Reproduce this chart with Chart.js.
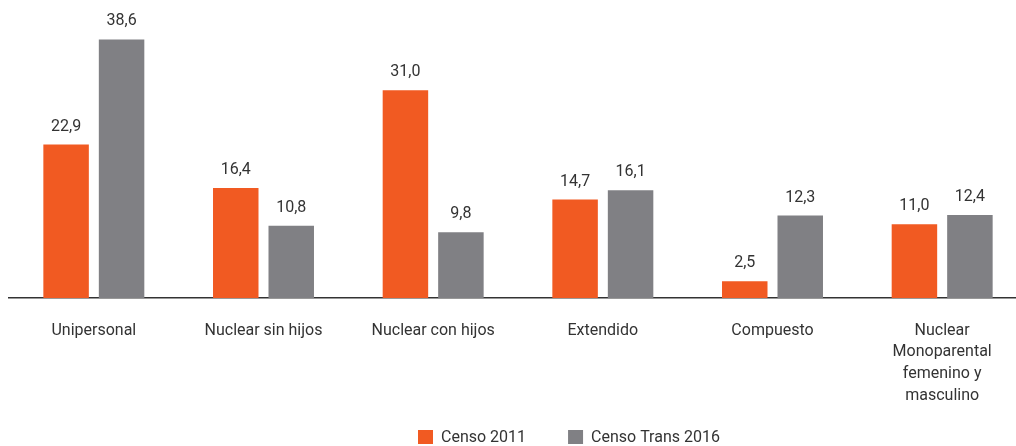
<!DOCTYPE html>
<html>
<head>
<meta charset="utf-8">
<script src="https://cdn.jsdelivr.net/npm/chart.js@4.4.1/dist/chart.umd.min.js"></script>
<style>
  html, body { margin: 0; padding: 0; background: #fff; overflow: hidden; width: 1016px; height: 446px; }
  #wrap { width: 1030px; height: 446px; }
</style>
</head>
<body>
<div id="wrap"><canvas id="c" width="1030" height="446"></canvas></div>
<script>
const categories = ['Unipersonal', 'Nuclear sin hijos', 'Nuclear con hijos', 'Extendido', 'Compuesto',
  ['Nuclear', 'Monoparental', 'femenino y', 'masculino']];
const censo2011 = [22.9, 16.4, 31.0, 14.7, 2.5, 11.0];
const censoTrans2016 = [38.6, 10.8, 9.8, 16.1, 12.3, 12.4];
const seriesNames = ['Censo 2011', 'Censo Trans 2016'];

const FONT = 'Roboto, "Liberation Sans Narrow", sans-serif';
const ORANGE = '#F15A22';
const GRAY = '#808084';
const TEXT = '#333333';

const valueLabels = {
  id: 'valueLabels',
  afterDatasetsDraw(chart) {
    const ctx = chart.ctx;
    ctx.save();
    ctx.font = '16px ' + FONT;
    ctx.fillStyle = TEXT;
    ctx.textAlign = 'center';
    ctx.textBaseline = 'alphabetic';
    chart.data.datasets.forEach((ds, i) => {
      const meta = chart.getDatasetMeta(i);
      meta.data.forEach((el, j) => {
        const v = ds.data[j];
        ctx.fillText(v.toFixed(1).replace('.', ','), el.x, el.y - 14);
      });
    });
    ctx.restore();
  }
};

const customLegend = {
  id: 'customLegend',
  afterDraw(chart) {
    const ctx = chart.ctx;
    ctx.save();
    ctx.font = '16px ' + FONT;
    ctx.textBaseline = 'middle';
    ctx.textAlign = 'left';
    let x = 418;
    const y = 430;
    chart.data.datasets.forEach(ds => {
      ctx.fillStyle = ds.backgroundColor;
      ctx.fillRect(x, y, 15, 14);
      ctx.fillStyle = TEXT;
      ctx.fillText(ds.label, x + 23, y + 7.5);
      x += 15 + 8 + ctx.measureText(ds.label).width + 42;
    });
    ctx.restore();
  }
};

new Chart(document.getElementById('c'), {
  type: 'bar',
  data: {
    labels: categories,
    datasets: [
      { label: seriesNames[0], data: censo2011, backgroundColor: ORANGE,
        categoryPercentage: 0.654, barPercentage: 0.82 },
      { label: seriesNames[1], data: censoTrans2016, backgroundColor: GRAY,
        categoryPercentage: 0.654, barPercentage: 0.82 }
    ]
  },
  options: {
    responsive: false,
    animation: false,
    layout: { padding: { left: 9, right: 3, top: 30, bottom: 28 } },
    plugins: { legend: { display: false }, tooltip: { enabled: false } },
    scales: {
      x: {
        grid: { display: false, drawTicks: false },
        border: { display: true, color: '#333333', width: 1.5 },
        ticks: { padding: 22, color: TEXT, font: { family: FONT, size: 16, lineHeight: 1.35 },
          maxRotation: 0, autoSkip: false },
        afterFit(scale) { scale.height = 120; }
      },
      y: { display: false, min: 0, max: 40 }
    }
  },
  plugins: [valueLabels, customLegend]
});
</script>
</body>
</html>
